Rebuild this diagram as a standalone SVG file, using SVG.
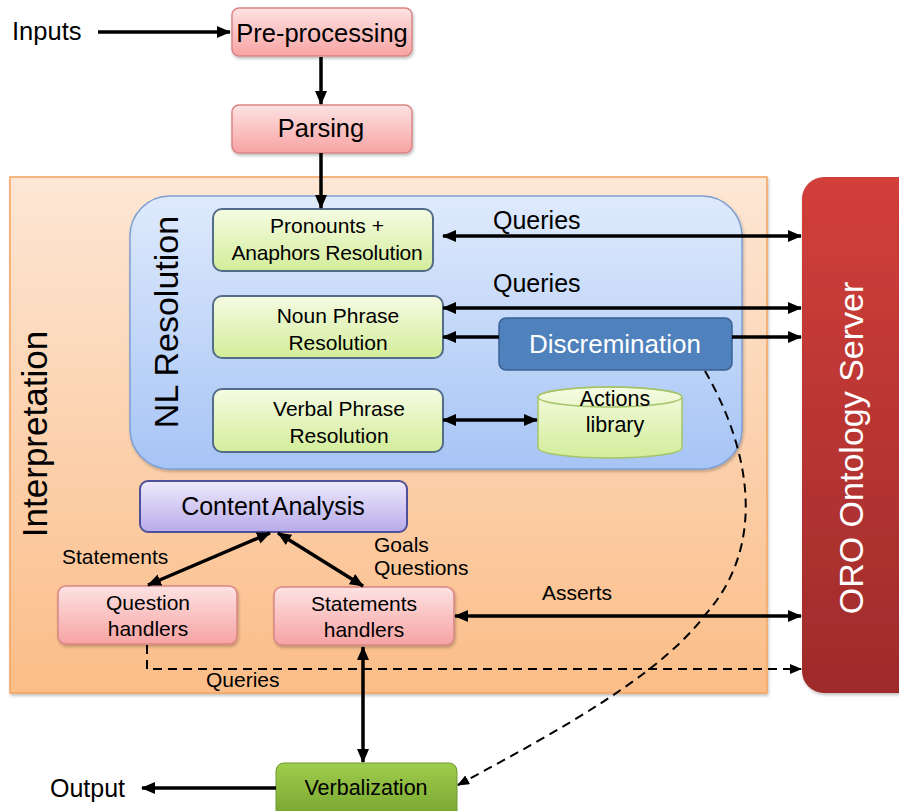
<svg xmlns="http://www.w3.org/2000/svg" width="899" height="811" viewBox="0 0 899 811">
<defs>
<linearGradient id="gPink" x1="0" y1="0" x2="0" y2="1"><stop offset="0" stop-color="#fde2e2"/><stop offset="1" stop-color="#f7a3a3"/></linearGradient>
<linearGradient id="gGreen" x1="0" y1="0" x2="0" y2="1"><stop offset="0" stop-color="#f5fbe2"/><stop offset="1" stop-color="#d3ed9a"/></linearGradient>
<linearGradient id="gPurple" x1="0" y1="0" x2="0" y2="1"><stop offset="0" stop-color="#eeeafb"/><stop offset="1" stop-color="#b7abea"/></linearGradient>
<linearGradient id="gOrange" x1="0" y1="0" x2="0" y2="1"><stop offset="0" stop-color="#fde7d5"/><stop offset="1" stop-color="#fbbd88"/></linearGradient>
<linearGradient id="gBlue" x1="0" y1="0" x2="0" y2="1"><stop offset="0" stop-color="#dfeafc"/><stop offset="1" stop-color="#a6c4f5"/></linearGradient>
<linearGradient id="gRed" x1="0" y1="0" x2="0" y2="1"><stop offset="0" stop-color="#d23f3a"/><stop offset="1" stop-color="#9e2b2b"/></linearGradient>
<linearGradient id="gVerb" x1="0" y1="0" x2="0" y2="1"><stop offset="0" stop-color="#9fcd4c"/><stop offset="1" stop-color="#74a02d"/></linearGradient>
<filter id="sh" x="-10%" y="-10%" width="130%" height="140%"><feDropShadow dx="1" dy="2" stdDeviation="1.5" flood-color="#000" flood-opacity="0.25"/></filter>
<marker id="ah" markerUnits="userSpaceOnUse" viewBox="0 0 14 12" markerWidth="14" markerHeight="12" refX="13" refY="6" orient="auto-start-reverse"><path d="M0,0 L14,6 L0,12 z" fill="#000"/></marker>
<marker id="ahs" markerUnits="userSpaceOnUse" viewBox="0 0 12 10" markerWidth="12" markerHeight="10" refX="11" refY="5" orient="auto-start-reverse"><path d="M0,0 L12,5 L0,10 z" fill="#000"/></marker>
</defs>
<style>
text{font-family:"Liberation Sans",Arial,sans-serif;fill:#000}
.pink{fill:url(#gPink);stroke:#d98585;stroke-width:1.5}
.green{fill:url(#gGreen);stroke:#536d88;stroke-width:2}
.ln{stroke:#000;stroke-width:3.5;fill:none}
.dash{stroke:#000;stroke-width:2;fill:none;stroke-dasharray:9,6}
.c{text-anchor:middle}
</style>

<g id="interpretation">
<rect x="10" y="177" width="757" height="516" fill="url(#gOrange)" stroke="#f4a35c" stroke-width="1.5" filter="url(#sh)"/>
<text transform="translate(47,434) rotate(-90)" class="c" font-size="35">Interpretation</text>
</g>

<g id="oro-server">
<rect x="802" y="177" width="130" height="516" rx="22" fill="url(#gRed)" filter="url(#sh)"/>
<text transform="translate(863,448) rotate(-90)" class="c" font-size="34" style="fill:#fff">ORO Ontology Server</text>
</g>

<g id="nl-resolution">
<rect x="130" y="196" width="612" height="273" rx="40" fill="url(#gBlue)" stroke="#7d9fd3" stroke-width="1.5" filter="url(#sh)"/>
<text transform="translate(178,322) rotate(-90)" class="c" font-size="34">NL Resolution</text>
</g>

<g id="inputs"><text x="12" y="40" font-size="25.5">Inputs</text></g>

<g id="preprocessing">
<rect x="232" y="8" width="180" height="48" rx="7" class="pink" filter="url(#sh)"/>
<text x="322" y="42" class="c" font-size="25.5">Pre-processing</text>
</g>

<g id="parsing">
<rect x="232" y="105" width="180" height="48" rx="7" class="pink" filter="url(#sh)"/>
<text x="321" y="137" class="c" font-size="25.5">Parsing</text>
</g>

<g id="pronouns">
<rect x="213" y="209" width="220" height="62" rx="9" class="green"/>
<text x="327" y="233" class="c" font-size="21">Pronounts +</text>
<text x="327" y="260" class="c" font-size="21" letter-spacing="-0.2">Anaphors Resolution</text>
</g>

<g id="noun-phrase">
<rect x="213" y="296" width="230" height="62" rx="9" class="green"/>
<text x="338" y="323" class="c" font-size="21">Noun Phrase</text>
<text x="338" y="350" class="c" font-size="21">Resolution</text>
</g>

<g id="verbal-phrase">
<rect x="213" y="389" width="230" height="63" rx="9" class="green"/>
<text x="339" y="416" class="c" font-size="21">Verbal Phrase</text>
<text x="339" y="443" class="c" font-size="21">Resolution</text>
</g>

<g id="discremination">
<rect x="499" y="318" width="233" height="52" rx="7" fill="#4f81bd" stroke="#3b6294" stroke-width="1.5"/>
<text x="615" y="353" class="c" font-size="26" style="fill:#fff">Discremination</text>
</g>

<g id="actions-library">
<path d="M538,397 L538,448 A72,10 0 0 0 682,448 L682,397 A72,10 0 0 0 538,397 z" fill="url(#gGreen)" stroke="#a5c46a" stroke-width="1.5"/>
<ellipse cx="610" cy="397" rx="72" ry="10" fill="none" stroke="#a5c46a" stroke-width="1.5"/>
<text x="615" y="406" class="c" font-size="21.5">Actions</text>
<text x="615" y="432" class="c" font-size="21.5">library</text>
</g>

<g id="content-analysis">
<rect x="140" y="481" width="267" height="51" rx="8" fill="url(#gPurple)" stroke="#4f4f9a" stroke-width="2"/>
<text x="273" y="515" class="c" font-size="25" word-spacing="-2.5">Content Analysis</text>
</g>

<g id="question-handlers">
<rect x="58" y="586" width="179" height="58" rx="8" class="pink" filter="url(#sh)"/>
<text x="148" y="610" class="c" font-size="21">Question</text>
<text x="148" y="636" class="c" font-size="21">handlers</text>
</g>

<g id="statements-handlers">
<rect x="274" y="587" width="180" height="58" rx="8" class="pink" filter="url(#sh)"/>
<text x="364" y="611" class="c" font-size="21">Statements</text>
<text x="364" y="637" class="c" font-size="21">handlers</text>
</g>

<g id="verbalization">
<rect x="276" y="763" width="181" height="60" rx="8" fill="url(#gVerb)" stroke="#6d9a2e" stroke-width="1"/>
<text x="366" y="795" class="c" font-size="21.5">Verbalization</text>
</g>

<g id="output"><text x="50" y="797" font-size="25">Output</text></g>

<g id="connectors">
<line x1="98" y1="32" x2="230" y2="32" class="ln" marker-end="url(#ah)"/>
<line x1="321" y1="57" x2="321" y2="104" class="ln" marker-end="url(#ah)"/>
<line x1="321" y1="153" x2="321" y2="208" class="ln" marker-end="url(#ah)"/>
<line x1="443" y1="236" x2="801" y2="236" class="ln" marker-start="url(#ah)" marker-end="url(#ah)"/>
<line x1="443" y1="308" x2="801" y2="308" class="ln" marker-start="url(#ah)" marker-end="url(#ah)"/>
<line x1="499" y1="337" x2="443" y2="337" class="ln" marker-end="url(#ah)"/>
<line x1="732" y1="337" x2="801" y2="337" class="ln" marker-end="url(#ah)"/>
<line x1="443" y1="420" x2="537" y2="420" class="ln" marker-start="url(#ah)" marker-end="url(#ah)"/>
<line x1="270" y1="533" x2="148" y2="585" class="ln" marker-start="url(#ah)" marker-end="url(#ah)"/>
<line x1="278" y1="533" x2="363" y2="586" class="ln" marker-start="url(#ah)" marker-end="url(#ah)"/>
<line x1="455" y1="616" x2="801" y2="616" class="ln" marker-start="url(#ah)" marker-end="url(#ah)"/>
<line x1="363" y1="647" x2="363" y2="762" class="ln" marker-start="url(#ah)" marker-end="url(#ah)"/>
<line x1="276" y1="788" x2="142" y2="788" class="ln" marker-end="url(#ah)"/>
<path d="M147,645 L147,669 L801,669" class="dash" marker-end="url(#ahs)"/>
<path d="M705,371 C745,440 772,540 705,615 C660,675 560,730 458,785" class="dash" marker-end="url(#ahs)"/>
<text x="493" y="229" font-size="25">Queries</text>
<text x="493" y="292" font-size="25">Queries</text>
<text x="542" y="600" font-size="21">Asserts</text>
<text x="206" y="687" font-size="21">Queries</text>
<text x="62" y="564" font-size="21">Statements</text>
<text x="374" y="552" font-size="21">Goals</text>
<text x="374" y="575" font-size="21">Questions</text>
</g>
</svg>
